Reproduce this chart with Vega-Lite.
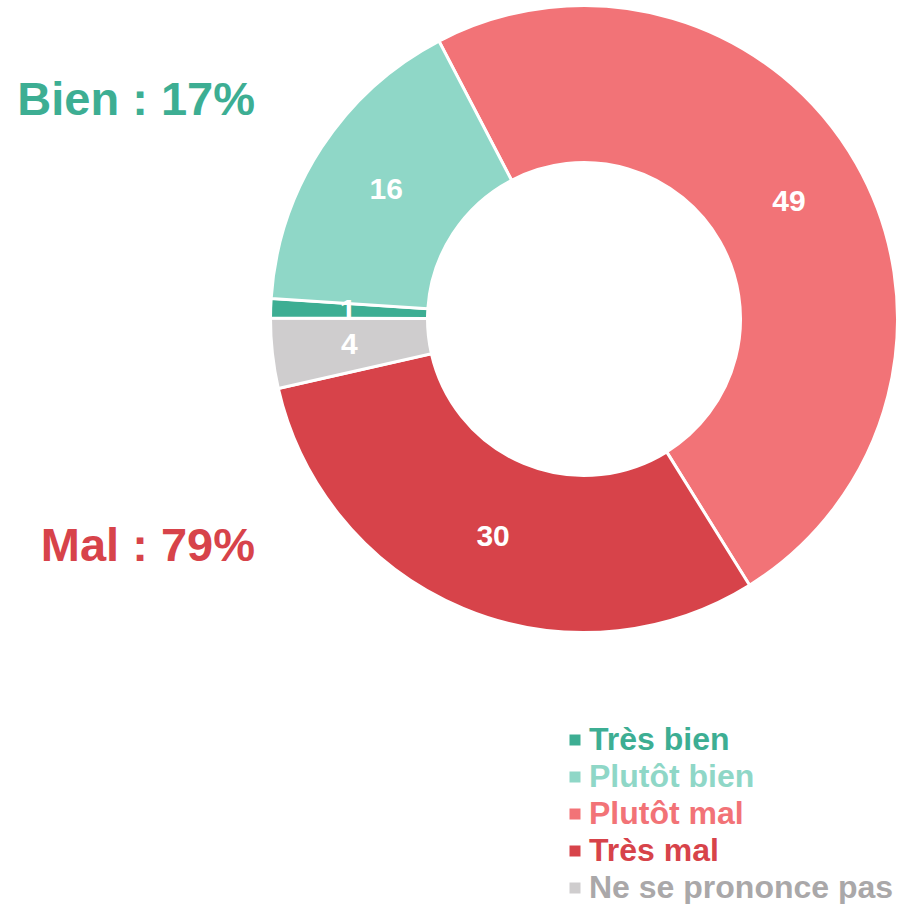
{
  "$schema": "https://vega.github.io/schema/vega-lite/v6.json",
  "autosize": "none",
  "width": 624,
  "height": 624,
  "padding": {"left": 272, "top": 7, "right": 1, "bottom": 273},
  "background": "white",
  "config": {"view": {"stroke": null}, "font": "Liberation Sans"},
  "datasets": {
    "reponses": [
      {"categorie": "Plutôt mal", "valeur": 48.8},
      {"categorie": "Très mal", "valeur": 30.3},
      {"categorie": "Ne se prononce pas", "valeur": 3.6},
      {"categorie": "Très bien", "valeur": 1.0},
      {"categorie": "Plutôt bien", "valeur": 16.3}
    ],
    "totaux": [
      {"groupe": "Bien", "texte": "Bien : 17%"},
      {"groupe": "Mal", "texte": "Mal : 79%"}
    ]
  },
  "layer": [
    {
      "data": {"name": "reponses"},
      "transform": [{"window": [{"op": "row_number", "as": "rang"}]}],
      "mark": {"type": "arc", "innerRadius": 156.5, "outerRadius": 313.5, "stroke": "white", "strokeWidth": 3},
      "encoding": {
        "theta": {"field": "valeur", "type": "quantitative", "stack": true, "scale": {"domain": [0, 100], "range": [-0.481, 5.8022]}},
        "order": {"field": "rang", "type": "quantitative"},
        "color": {
          "field": "categorie",
          "type": "nominal",
          "scale": {
            "domain": ["Très bien", "Plutôt bien", "Plutôt mal", "Très mal", "Ne se prononce pas"],
            "range": ["#3dae93", "#8fd7c7", "#f27377", "#d7434a", "#cfcdce"]
          },
          "legend": {
            "orient": "none",
            "legendX": 287,
            "legendY": 717,
            "title": null,
            "symbolType": "square",
            "symbolSize": 121,
            "symbolStrokeWidth": 0,
            "symbolOpacity": 1,
            "labelFont": "Liberation Sans",
            "labelFontSize": 32,
            "labelFontWeight": "bold",
            "labelOffset": -2,
            "rowPadding": 5,
            "labelLimit": 400,
            "padding": 0,
            "labelColor": {"expr": "datum.value === 'Très bien' ? '#3dae93' : datum.value === 'Plutôt bien' ? '#8fd7c7' : datum.value === 'Plutôt mal' ? '#f27377' : datum.value === 'Très mal' ? '#d7434a' : '#aaa8a9'"}
          }
        }
      }
    },
    {
      "data": {"name": "reponses"},
      "transform": [{"window": [{"op": "row_number", "as": "rang"}]}],
      "mark": {"type": "text", "radius": 236, "font": "Liberation Sans", "fontSize": 30, "fontWeight": "bold", "color": "white", "align": "center", "baseline": "middle"},
      "encoding": {
        "theta": {"field": "valeur", "type": "quantitative", "stack": true},
        "order": {"field": "rang", "type": "quantitative"},
        "text": {"field": "valeur", "type": "quantitative", "format": ".0f"}
      }
    },
    {
      "data": {"name": "totaux"},
      "mark": {"type": "text", "font": "Liberation Sans", "fontSize": 47, "fontWeight": "bold", "align": "right", "baseline": "alphabetic"},
      "encoding": {
        "x": {"value": -17},
        "y": {"field": "groupe", "type": "nominal", "scale": {"type": "point", "padding": 0, "domain": ["Bien", "Mal"], "range": [108, 554]}, "axis": null},
        "text": {"field": "texte", "type": "nominal"},
        "color": {"condition": {"test": "datum.groupe === 'Bien'", "value": "#3dae93"}, "value": "#d7434a"}
      }
    }
  ]
}
